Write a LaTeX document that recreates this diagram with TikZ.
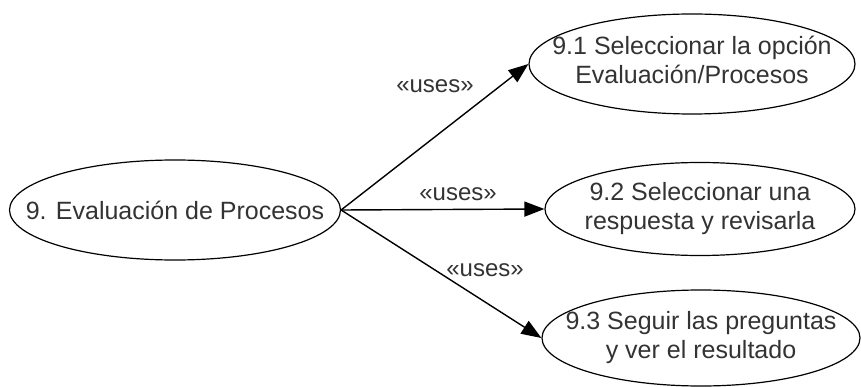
\documentclass[tikz,border=0pt]{standalone}
\usepackage{fontspec}
\setmainfont{Liberation Sans}
\usetikzlibrary{shapes.geometric,arrows.meta}
\begin{document}
\begin{tikzpicture}[x=1pt,y=-1pt,
  uc/.style={draw, ellipse, line width=1.2pt, inner sep=0pt},
  uctext/.style={inner sep=0pt, align=center,
             font=\fontsize{25}{29}\selectfont, text=black!80},
  rel/.style={-{Triangle[length=20pt,width=15pt]}, line width=1.4pt},
  lbl/.style={font=\fontsize{24}{28}\selectfont, text=black!80}]
\useasboundingbox (0,0) rectangle (861,387);
\node[uc, minimum width=331pt, minimum height=100pt] (a) at (175,210) {};
\node[uctext] (at) at (a) {9. Evaluación de Procesos};
\node[uc, minimum width=326pt, minimum height=100pt] (b) at (692,64) {};
\node[uctext] (bt) at ([yshift=4pt]b.center) {9.1 Seleccionar la opción\\Evaluación/Procesos};
\node[uc, minimum width=310pt, minimum height=93pt] (c) at (700,209) {};
\node[uctext] (ct) at (c) {9.2 Seleccionar una\\respuesta y revisarla};
\node[uc, minimum width=318pt, minimum height=96pt] (d) at (701,338) {};
\node[uctext] (dt) at (d) {9.3 Seguir las preguntas\\y ver el resultado};
\draw[rel] (a.east) -- (b.west);
\draw[rel] (a.east) -- (c.west);
\draw[rel] (a.east) -- (d.west);
\node[lbl] (l1) at (435,86) {«uses»};
\node[lbl] (l2) at (458,194) {«uses»};
\node[lbl] (l3) at (485,270) {«uses»};
\end{tikzpicture}
\end{document}
